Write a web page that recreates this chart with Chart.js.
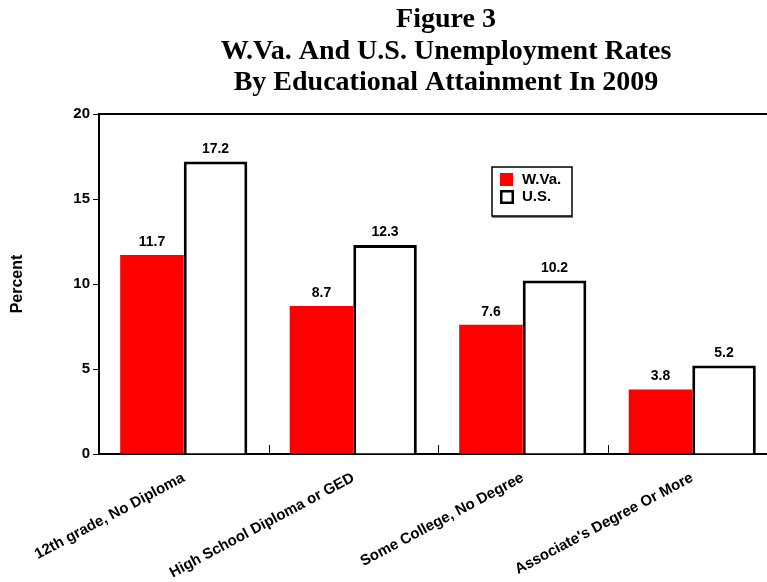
<!DOCTYPE html>
<html>

<head>
    <title>Figure 3</title>
    <script src="https://cdn.jsdelivr.net/npm/chart.js"></script>
    <style>
        body {
            margin: 0;
            overflow: hidden;
            background: #fff;
        }

        #wrap {
            width: 892px;
            height: 582px;
        }
    </style>
</head>

<body>
    <div id="wrap">
        <canvas id="eduChart" width="892" height="582"></canvas>
    </div>

    <script>
        const categories = ['12th grade, No Diploma', 'High School Diploma or GED', 'Some College, No Degree', "Associate's Degree Or More"];
        const wvaRates = [11.7, 8.7, 7.6, 3.8];
        const usRates = [17.2, 12.3, 10.2, 5.2];
        const yMax = 20;
        const yStep = 5;

        const sans = '"Liberation Sans", Arial, sans-serif';
        Chart.defaults.color = '#000';
        Chart.defaults.font.family = sans;

        // numbers above each bar
        const valueLabels = {
            id: 'valueLabels',
            afterDatasetsDraw(chart) {
                const c = chart.ctx;
                c.save();
                c.font = 'bold 14px ' + sans;
                c.fillStyle = '#000';
                c.textAlign = 'center';
                c.textBaseline = 'alphabetic';
                chart.data.datasets.forEach((ds, i) => {
                    chart.getDatasetMeta(i).data.forEach((bar, j) => {
                        c.fillText(ds.data[j].toFixed(1), bar.x, bar.y - 9);
                    });
                });
                c.restore();
            }
        };

        // top frame line, inward ticks between categories, and the boxed legend
        const frame = {
            id: 'frame',
            afterDraw(chart) {
                const c = chart.ctx;
                const a = chart.chartArea;
                const x = chart.scales.x;
                c.save();
                c.strokeStyle = '#000';
                c.lineWidth = 2;
                c.beginPath();
                c.moveTo(a.left - 1, a.top);
                c.lineTo(a.right, a.top);
                c.stroke();

                c.lineWidth = 1;
                for (let i = 1; i < categories.length; i++) {
                    const px = Math.round((x.getPixelForValue(i - 1) + x.getPixelForValue(i)) / 2) + 0.5;
                    c.beginPath();
                    c.moveTo(px, a.bottom);
                    c.lineTo(px, a.bottom - 9);
                    c.stroke();
                }

                // legend
                const lx = 492, ly = 167, lw = 80, lh = 49;
                c.fillStyle = '#fff';
                c.fillRect(lx, ly, lw, lh);
                c.lineWidth = 1.5;
                c.strokeRect(lx, ly, lw, lh);
                c.lineWidth = 1;
                c.beginPath();
                c.moveTo(lx, ly + lh + 1);
                c.lineTo(lx + lw + 1, ly + lh + 1);
                c.stroke();

                c.fillStyle = '#ff0000';
                c.fillRect(lx + 8, ly + 6, 13, 13);
                c.lineWidth = 2.5;
                c.strokeStyle = '#000';
                c.strokeRect(lx + 9.25, ly + 24.25, 11.5, 11.5);

                c.fillStyle = '#000';
                c.font = 'bold 15px ' + sans;
                c.textAlign = 'left';
                c.textBaseline = 'middle';
                c.fillText(chart.data.datasets[0].label, lx + 30, ly + 13);
                c.fillText(chart.data.datasets[1].label, lx + 30, ly + 30);
                c.restore();
            }
        };

        const ctx = document.getElementById('eduChart').getContext('2d');
        const eduChart = new Chart(ctx, {
            type: 'bar',
            data: {
                labels: categories,
                datasets: [{
                    label: 'W.Va.',
                    data: wvaRates,
                    backgroundColor: '#ff0000',
                    borderWidth: 0
                }, {
                    label: 'U.S.',
                    data: usRates,
                    backgroundColor: '#ffffff',
                    borderColor: '#000000',
                    borderWidth: 3,
                    borderSkipped: 'bottom'
                }]
            },
            options: {
                responsive: false,
                animation: false,
                categoryPercentage: 0.75,
                barPercentage: 1,
                layout: {
                    padding: 0
                },
                plugins: {
                    legend: {
                        display: false
                    },
                    tooltip: {
                        enabled: false
                    },
                    title: {
                        display: true,
                        text: ['Figure 3', 'W.Va. And U.S. Unemployment Rates', 'By Educational Attainment In 2009'],
                        color: '#000',
                        font: {
                            family: '"Liberation Serif", "Times New Roman", serif',
                            size: 28,
                            weight: 'bold',
                            lineHeight: 1.125
                        },
                        padding: {
                            top: 4.5,
                            bottom: 15
                        }
                    }
                },
                scales: {
                    x: {
                        grid: {
                            display: false
                        },
                        border: {
                            color: '#000',
                            width: 2
                        },
                        ticks: {
                            autoSkip: false,
                            maxRotation: 28,
                            minRotation: 28,
                            padding: 7,
                            font: {
                                size: 15,
                                weight: 'bold'
                            }
                        },
                        afterFit: s => {
                            s.height = 128;
                        }
                    },
                    y: {
                        min: 0,
                        max: yMax,
                        ticks: {
                            stepSize: yStep,
                            padding: 3,
                            font: {
                                size: 15,
                                weight: 'bold'
                            }
                        },
                        grid: {
                            drawOnChartArea: false,
                            tickLength: 6,
                            color: '#000'
                        },
                        border: {
                            color: '#000',
                            width: 2
                        },
                        title: {
                            display: true,
                            text: 'Percent',
                            font: {
                                size: 16,
                                weight: 'bold'
                            },
                            padding: {
                                top: 8,
                                bottom: 0
                            }
                        },
                        afterFit: s => {
                            s.width = 99;
                        }
                    },
                    spare: {
                        position: 'right',
                        display: true,
                        grid: {
                            display: false
                        },
                        border: {
                            display: false
                        },
                        ticks: {
                            display: false
                        },
                        afterFit: s => {
                            s.width = 115;
                        }
                    }
                }
            },
            plugins: [valueLabels, frame]
        });
    </script>
</body>

</html>
